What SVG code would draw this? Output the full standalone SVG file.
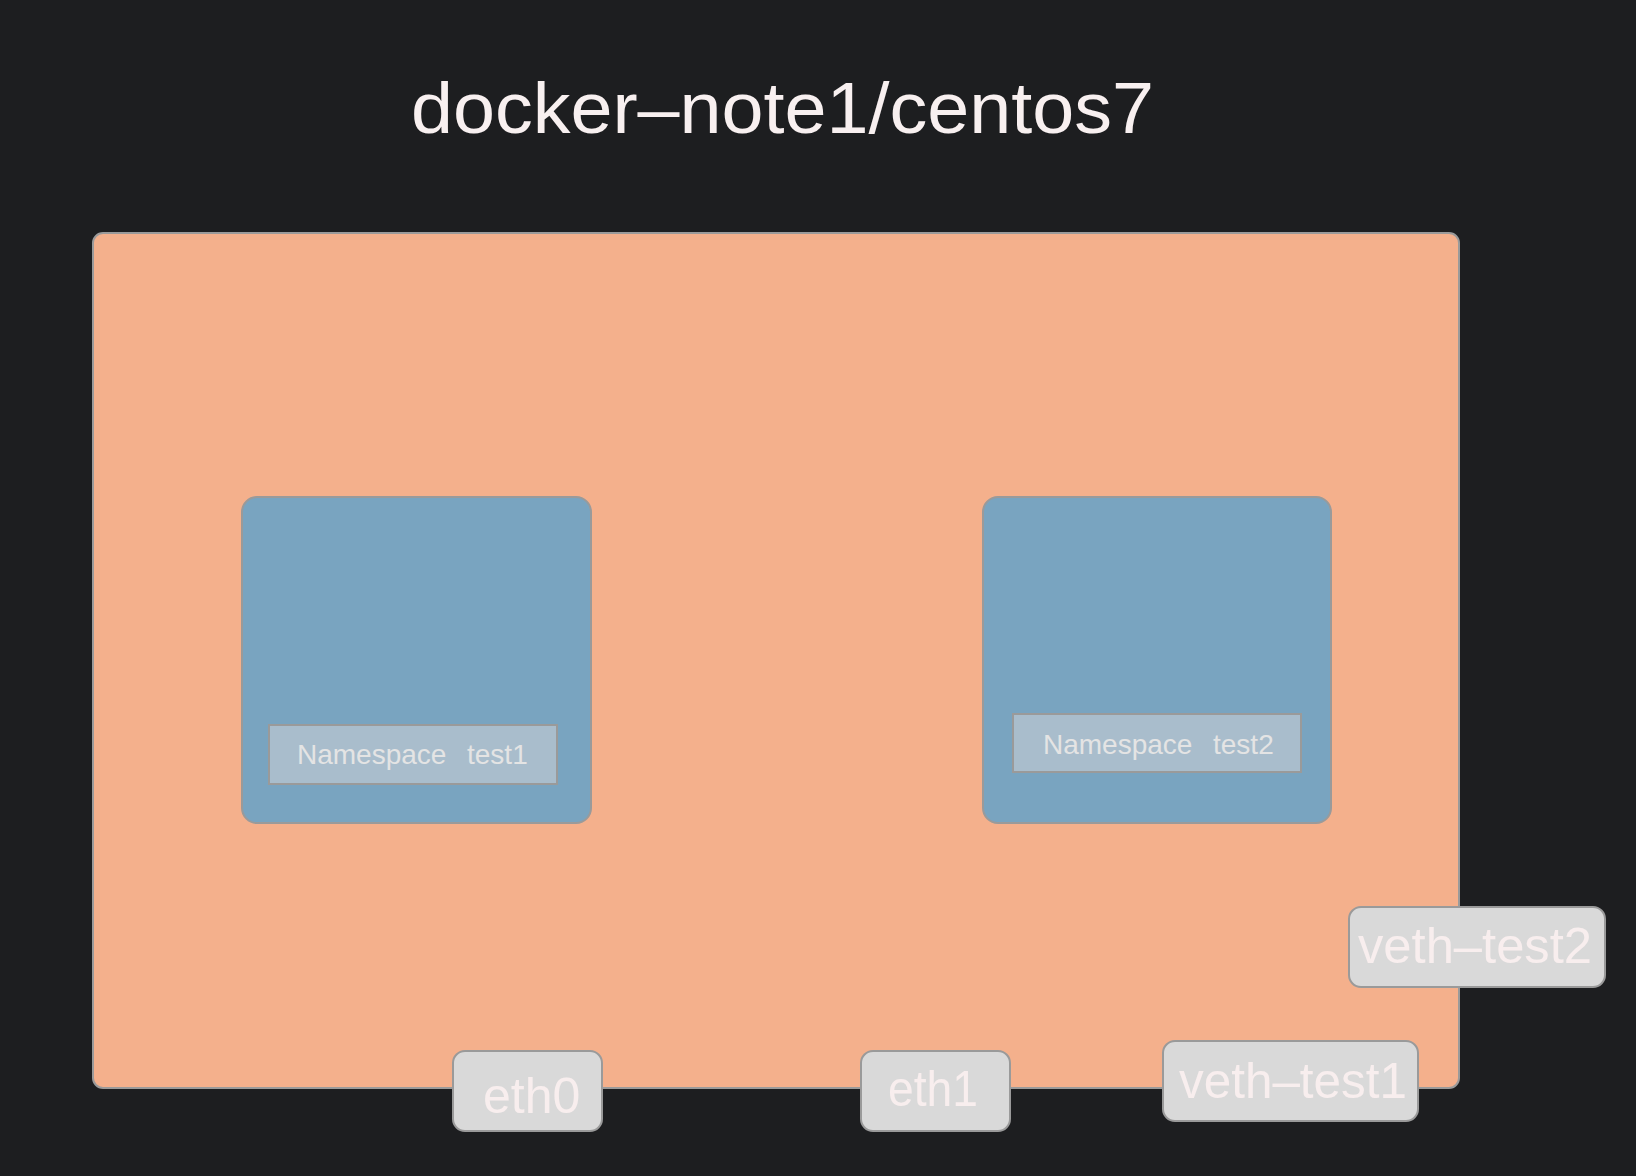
<svg xmlns="http://www.w3.org/2000/svg" width="1636" height="1176" viewBox="0 0 1636 1176">
<style>
.bg{fill:#1d1e20}
.host{fill:#f4b08c;stroke:#9a9a9a;stroke-width:2}
.ns{fill:#79a4c0;stroke:#9a9a9a;stroke-width:2}
.lbl{fill:#a9bdcc;stroke:#9a9a9a;stroke-width:2}
.port{fill:#d9d9d9;stroke:#9a9a9a;stroke-width:2}
.t{font-family:"Liberation Sans",Arial,sans-serif}
.title{font-size:72px;fill:#f8f0f0}
.nst{font-size:28px;fill:#e4e4e4}
.pt{font-size:50px;fill:#f8eeee}
</style>
<rect class="bg" x="0" y="0" width="1636" height="1176"/>
<g id="title">
<text class="t title" x="411" y="133" textLength="743" lengthAdjust="spacingAndGlyphs">docker–note1/centos7</text>
</g>
<g id="host">
<rect class="host" x="93" y="233" width="1366" height="855" rx="10"/>
</g>
<g id="ns-test1">
<rect class="ns" x="242" y="497" width="349" height="326" rx="15"/>
<rect class="lbl" x="269" y="725" width="288" height="59"/>
<text class="t nst" x="297" y="764">Namespace<tspan x="467">test1</tspan></text>
</g>
<g id="ns-test2">
<rect class="ns" x="983" y="497" width="348" height="326" rx="15"/>
<rect class="lbl" x="1013" y="714" width="288" height="58"/>
<text class="t nst" x="1043" y="754">Namespace<tspan x="1213">test2</tspan></text>
</g>
<g id="eth0">
<rect class="port" x="453" y="1051" width="149" height="80" rx="12"/>
<text class="t pt" x="483" y="1113">eth0</text>
</g>
<g id="eth1">
<rect class="port" x="861" y="1051" width="149" height="80" rx="12"/>
<text class="t pt" x="888" y="1106" textLength="90" lengthAdjust="spacingAndGlyphs">eth1</text>
</g>
<g id="veth-test1">
<rect class="port" x="1163" y="1041" width="255" height="80" rx="12"/>
<text class="t pt" x="1179" y="1098" textLength="228" lengthAdjust="spacingAndGlyphs">veth–test1</text>
</g>
<g id="veth-test2">
<rect class="port" x="1349" y="907" width="256" height="80" rx="12"/>
<text class="t pt" x="1358" y="963" textLength="234" lengthAdjust="spacingAndGlyphs">veth–test2</text>
</g>
<g id="connectors"></g>
</svg>
